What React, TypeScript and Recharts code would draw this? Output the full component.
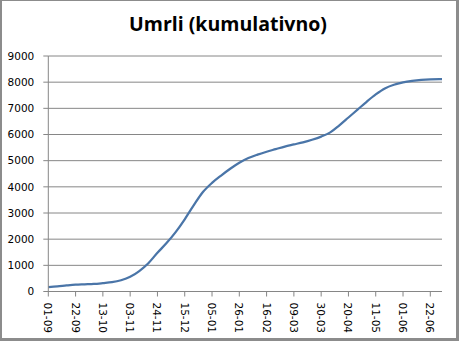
import React from "react";
import { LineChart, Line, XAxis, YAxis, CartesianGrid } from "recharts";

const days = [
  0, 7, 14, 21, 28, 35, 42, 49, 56, 63, 70, 77, 84, 91, 98, 105, 112, 119, 126, 133, 140, 147, 154, 161, 168,
  175, 182, 189, 196, 203, 210, 217, 224, 231, 238, 245, 252, 259, 266, 273, 280, 287, 294, 301, 303,
];
const deaths = [
  170, 195, 230, 260, 275, 290, 320, 355, 430, 560, 780, 1080, 1480, 1850, 2270, 2760, 3300, 3800, 4150, 4430,
  4690, 4920, 5100, 5230, 5340, 5440, 5540, 5620, 5700, 5800, 5920, 6080, 6350, 6650, 6950, 7250, 7530, 7760,
  7900, 7990, 8050, 8090, 8110, 8115, 8115,
];

const tickDays = [0, 21, 42, 63, 84, 105, 126, 147, 168, 189, 210, 231, 252, 273, 294];
const tickLabels = [
  "01-09", "22-09", "13-10", "03-11", "24-11", "15-12", "05-01", "26-01",
  "16-02", "09-03", "30-03", "20-04", "11-05", "01-06", "22-06",
];
const yTicks = [0, 1000, 2000, 3000, 4000, 5000, 6000, 7000, 8000, 9000];

const data = days.map((d, i) => ({ day: d, value: deaths[i] }));

const AXIS = "#868686";
const FONT = "'DejaVu Sans', Verdana, sans-serif";

const DateTick = (props: any) => {
  const { x, y, payload } = props;
  const idx = tickDays.indexOf(payload.value);
  return (
    <text
      transform={`translate(${x},${y + 4}) rotate(90)`}
      textAnchor="start"
      dominantBaseline="central"
      style={{ fontSize: 10.5, fill: "#000", fontFamily: FONT }}
    >
      {idx >= 0 ? tickLabels[idx] : ""}
    </text>
  );
};

export default function App() {
  return (
    <div style={{ position: "absolute", left: 0, top: 0, width: 459, height: 341, background: "#fff" }}>
      <div
        style={{
          position: "absolute",
          left: 0,
          top: 10,
          width: 456,
          textAlign: "center",
          fontFamily: "'Open Sans', sans-serif",
          fontWeight: 700,
          fontSize: 19.5,
          color: "#000",
        }}
      >
        Umrli (kumulativno)
      </div>
      <div style={{ position: "absolute", left: 0, top: 0 }}>
        <LineChart width={459} height={341} data={data} margin={{ top: 56, right: 17, bottom: 0, left: 0 }}>
          <CartesianGrid vertical={false} stroke={AXIS} strokeWidth={1} />
          <XAxis
            dataKey="day"
            type="number"
            domain={[0, 303]}
            ticks={tickDays}
            interval={0}
            height={49.5}
            stroke={AXIS}
            tickSize={5}
            tick={<DateTick />}
          />
          <YAxis
            type="number"
            domain={[0, 9000]}
            ticks={yTicks}
            width={48.3}
            stroke={AXIS}
            tickSize={5}
            tickMargin={9}
            tick={{ fontSize: 10.5, fill: "#000", fontFamily: FONT }}
          />
          <Line
            type="monotone"
            dataKey="value"
            stroke="#4a75a8"
            strokeWidth={2.25}
            dot={false}
            isAnimationActive={false}
          />
        </LineChart>
      </div>
      <div
        style={{
          position: "absolute",
          inset: 0,
          boxSizing: "border-box",
          borderStyle: "solid",
          borderColor: "#8c8c8c",
          borderWidth: "1px 3px 3px 2px",
          pointerEvents: "none",
        }}
      />
    </div>
  );
}
